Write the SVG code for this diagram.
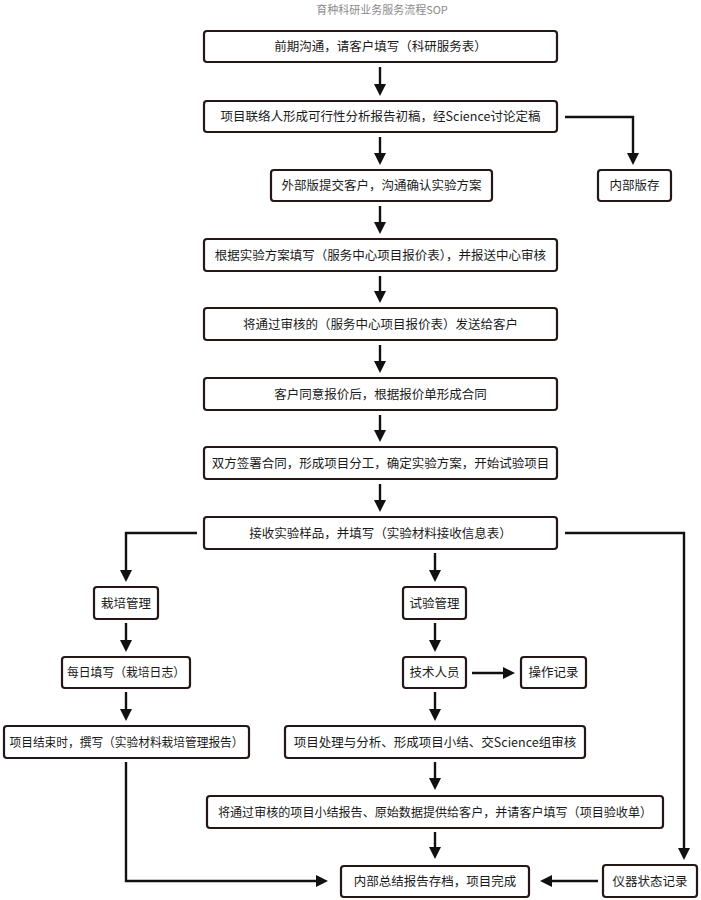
<svg xmlns="http://www.w3.org/2000/svg" width="701" height="900" viewBox="0 0 701 900">
<style>
.box{fill:#fff;stroke:#231815;stroke-width:2.2}
.t{font-family:"Noto Sans CJK SC","Noto Sans",sans-serif;font-size:12.5px;fill:#1a1a1a;text-anchor:middle}
.title{font-family:"Noto Sans CJK SC","Noto Sans",sans-serif;font-size:11px;fill:#8a8a8a;text-anchor:middle}
.c{fill:none;stroke:#111;stroke-width:2.4}
</style>
<defs>
<marker id="ah" viewBox="0 0 12 12" refX="3" refY="6" markerWidth="12" markerHeight="12" markerUnits="userSpaceOnUse" orient="auto">
<path d="M0,0 L12,6 L0,12 z" fill="#111"/>
</marker>
</defs>
<rect width="701" height="900" fill="#fff"/>
<text class="title" x="382" y="14">育种科研业务服务流程SOP</text>

<g id="connectors" marker-end="url(#ah)">
<path class="c" d="M380,67 V87"/>
<path class="c" d="M380,137 V156"/>
<path class="c" d="M565,117 H633 V156"/>
<path class="c" d="M380,206 V225"/>
<path class="c" d="M380,276 V294"/>
<path class="c" d="M380,345 V364"/>
<path class="c" d="M380,415 V433"/>
<path class="c" d="M380,484 V503"/>
<path class="c" d="M197,533 H126 V573"/>
<path class="c" d="M435,553 V573"/>
<path class="c" d="M565,533 H684 V851"/>
<path class="c" d="M126,623 V643"/>
<path class="c" d="M435,623 V643"/>
<path class="c" d="M472,673 H506"/>
<path class="c" d="M126,692 V712"/>
<path class="c" d="M435,692 V712"/>
<path class="c" d="M126,762 V881 H319"/>
<path class="c" d="M435,762 V781"/>
<path class="c" d="M435,832 V850"/>
<path class="c" d="M598,881 H549"/>
</g>

<g id="n1"><rect class="box" x="204" y="31" width="353" height="31" rx="3"/><text class="t" x="380.5" y="51">前期沟通，请客户填写（科研服务表）</text></g>
<g id="n2"><rect class="box" x="204" y="101" width="353" height="31" rx="3"/><text class="t" x="380.5" y="121">项目联络人形成可行性分析报告初稿，经Science讨论定稿</text></g>
<g id="n3"><rect class="box" x="271" y="170" width="221" height="31" rx="3"/><text class="t" x="381.5" y="190">外部版提交客户，沟通确认实验方案</text></g>
<g id="n3b"><rect class="box" x="598" y="170" width="73" height="31" rx="3"/><text class="t" x="634.5" y="190">内部版存</text></g>
<g id="n4"><rect class="box" x="204" y="239" width="353" height="32" rx="3"/><text class="t" x="380.5" y="259.5">根据实验方案填写（服务中心项目报价表），并报送中心审核</text></g>
<g id="n5"><rect class="box" x="204" y="308" width="353" height="32" rx="3"/><text class="t" x="380.5" y="328.5">将通过审核的（服务中心项目报价表）发送给客户</text></g>
<g id="n6"><rect class="box" x="204" y="378" width="353" height="32" rx="3"/><text class="t" x="380.5" y="398.5">客户同意报价后，根据报价单形成合同</text></g>
<g id="n7"><rect class="box" x="204" y="447" width="353" height="32" rx="3"/><text class="t" x="380.5" y="467.5">双方签署合同，形成项目分工，确定实验方案，开始试验项目</text></g>
<g id="n8"><rect class="box" x="204" y="517" width="353" height="32" rx="3"/><text class="t" x="380.5" y="537.5">接收实验样品，并填写（实验材料接收信息表）</text></g>
<g id="n9"><rect class="box" x="94" y="587" width="64" height="32" rx="3"/><text class="t" x="126" y="607.5">栽培管理</text></g>
<g id="n10"><rect class="box" x="403" y="587" width="63" height="32" rx="3"/><text class="t" x="434.5" y="607.5">试验管理</text></g>
<g id="n11"><rect class="box" x="62" y="657" width="128" height="31" rx="3"/><text class="t" x="126" y="677" textLength="118" lengthAdjust="spacingAndGlyphs">每日填写（栽培日志）</text></g>
<g id="n12"><rect class="box" x="403" y="657" width="63" height="31" rx="3"/><text class="t" x="434.5" y="677">技术人员</text></g>
<g id="n13"><rect class="box" x="521" y="657" width="65" height="31" rx="3"/><text class="t" x="553.5" y="677">操作记录</text></g>
<g id="n14"><rect class="box" x="4" y="726" width="245" height="32" rx="3"/><text class="t" x="126.5" y="746.5" textLength="234" lengthAdjust="spacingAndGlyphs">项目结束时，撰写（实验材料栽培管理报告）</text></g>
<g id="n15"><rect class="box" x="285" y="726" width="300" height="32" rx="3"/><text class="t" x="435" y="746.5">项目处理与分析、形成项目小结、交Science组审核</text></g>
<g id="n16"><rect class="box" x="207" y="796" width="456" height="32" rx="3"/><text class="t" x="435" y="816.5" textLength="434" lengthAdjust="spacingAndGlyphs">将通过审核的项目小结报告、原始数据提供给客户，并请客户填写（项目验收单）</text></g>
<g id="n17"><rect class="box" x="341" y="866" width="188" height="31" rx="3"/><text class="t" x="435" y="886">内部总结报告存档，项目完成</text></g>
<g id="n18"><rect class="box" x="603" y="865" width="94" height="32" rx="3"/><text class="t" x="650" y="885.5">仪器状态记录</text></g>
</svg>
